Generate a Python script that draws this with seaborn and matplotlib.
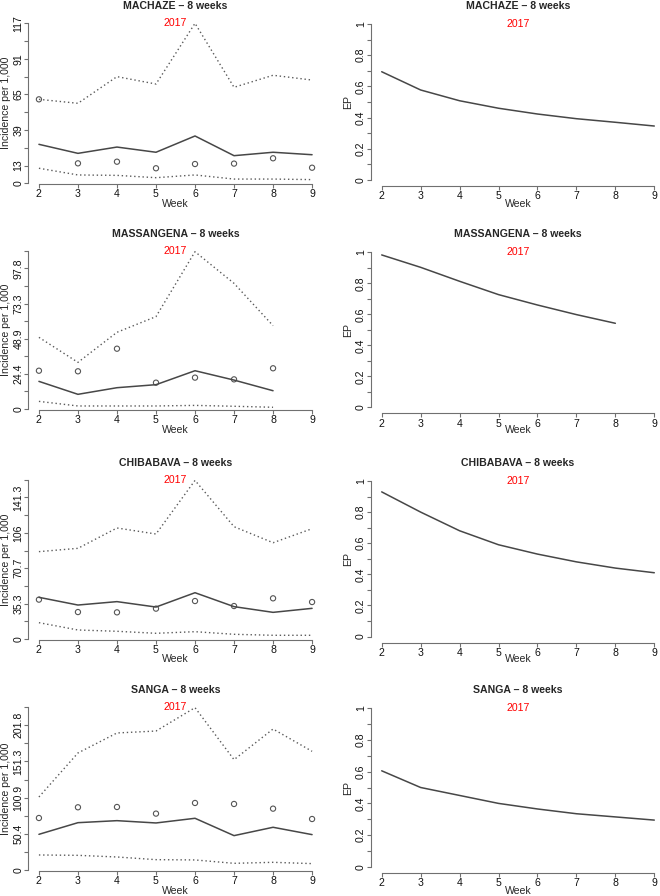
import matplotlib
matplotlib.use("Agg")
import matplotlib.pyplot as plt
import matplotlib.transforms as mtrans
import pandas as pd
import seaborn as sns

sns.set_style("ticks")
plt.rcParams["font.family"] = ["Liberation Sans", "DejaVu Sans"]

weeks = [2, 3, 4, 5, 6, 7, 8, 9]
year_label = "2017"

districts = ["MACHAZE", "MASSANGENA", "CHIBABAVA", "SANGA"]

# incidence per 1,000: upper / fitted / lower bands and observed points
machaze_upper = [61.4, 58.5, 78.0, 72.6, 117.0, 70.2, 79.0, 75.5]
machaze_fit = [28.5, 21.9, 26.5, 22.7, 34.6, 20.2, 22.7, 20.9]
machaze_lower = [11.0, 6.1, 5.8, 4.1, 6.1, 3.1, 3.1, 2.7]
machaze_obs = [61.4, 14.6, 15.8, 11.0, 14.1, 14.4, 18.3, 11.4]
machaze_ep = [0.694, 0.577, 0.508, 0.460, 0.423, 0.393, 0.370, 0.346]

massangena_upper = [49.8, 32.4, 53.3, 64.2, 109.3, 87.3, 57.9]
massangena_fit = [19.2, 10.2, 14.8, 16.9, 26.6, 20.1, 12.7]
massangena_lower = [5.3, 2.1, 2.1, 2.1, 2.5, 1.9, 1.2]
massangena_obs = [26.6, 26.2, 41.9, 18.3, 21.8, 20.6, 28.3]
massangena_ep = [0.983, 0.903, 0.813, 0.727, 0.660, 0.598, 0.542]

chibabava_upper = [87.2, 90.5, 110.8, 104.8, 158.3, 112.1, 96.1, 110.1]
chibabava_fit = [41.6, 33.9, 37.3, 31.9, 46.2, 32.3, 26.6, 30.6]
chibabava_lower = [16.3, 9.0, 7.7, 5.7, 7.3, 4.7, 3.7, 3.7]
chibabava_obs = [39.3, 26.9, 26.6, 30.3, 37.9, 32.9, 40.6, 36.9]
chibabava_ep = [0.93, 0.80, 0.68, 0.59, 0.53, 0.48, 0.44, 0.41]

sanga_upper = [101.9, 163.1, 190.9, 193.6, 226.1, 153.8, 196.4, 165.4]
sanga_fit = [50.0, 66.2, 69.0, 65.8, 72.3, 48.2, 59.8, 49.6]
sanga_lower = [21.3, 20.8, 18.5, 14.8, 14.4, 9.7, 11.1, 9.3]
sanga_obs = [72.7, 87.6, 88.0, 78.8, 93.6, 92.2, 85.7, 71.3]
sanga_ep = [0.605, 0.50, 0.45, 0.40, 0.365, 0.335, 0.315, 0.295]

machaze_yticks = [0, 13, 26, 39, 52, 65, 78, 91, 104, 117]
machaze_ylabels = ["0", "13", "", "39", "", "65", "", "91", "", "117"]
massangena_yticks = [0, 12.2, 24.4, 36.7, 48.9, 61.1, 73.3, 85.6, 97.8, 110]
massangena_ylabels = ["0", "", "24.4", "", "48.9", "", "73.3", "", "97.8", ""]
chibabava_yticks = [0, 17.7, 35.3, 53, 70.7, 88.3, 106, 123.7, 141.3, 159]
chibabava_ylabels = ["0", "", "35.3", "", "70.7", "", "106", "", "141.3", ""]
sanga_yticks = [0, 25.2, 50.4, 75.7, 100.9, 126.1, 151.3, 176.6, 201.8, 227]
sanga_ylabels = ["0", "", "50.4", "", "100.9", "", "151.3", "", "201.8", ""]

ep_yticks = [0, 0.1, 0.2, 0.3, 0.4, 0.5, 0.6, 0.7, 0.8, 0.9, 1.0]
ep_ylabels = ["0", "", "0.2", "", "0.4", "", "0.6", "", "0.8", "", "1"]

series = {
    "MACHAZE": (machaze_upper, machaze_fit, machaze_lower, machaze_obs, machaze_ep,
                machaze_yticks, machaze_ylabels),
    "MASSANGENA": (massangena_upper, massangena_fit, massangena_lower, massangena_obs,
                   massangena_ep, massangena_yticks, massangena_ylabels),
    "CHIBABAVA": (chibabava_upper, chibabava_fit, chibabava_lower, chibabava_obs,
                  chibabava_ep, chibabava_yticks, chibabava_ylabels),
    "SANGA": (sanga_upper, sanga_fit, sanga_lower, sanga_obs, sanga_ep,
              sanga_yticks, sanga_ylabels),
}

W, H = 660, 896
fig = plt.figure(figsize=(6.6, 8.96), dpi=100)

# pixel layout of each row: (left top, left zero, right one, right zero)
rows_px = [(23.3, 183.3, 24.0, 180.0),
           (250.7, 409.0, 252.3, 407.3),
           (479.7, 639.0, 481.0, 636.5),
           (707.0, 870.3, 708.0, 867.0)]

FS = 7.6
line_col = "#474747"
dot_col = "#5a5a5a"
axis_col = "#707070"
dotted = (0, (1, 2.0))


def px_axes(x0, x1, ytop, ybot):
    return fig.add_axes([x0 / W, 1 - ybot / H, (x1 - x0) / W, (ybot - ytop) / H])


def style_axes(ax, yticks, ylabels):
    ax.set_xlim(1.72, 9.28)
    ax.set_xticks(weeks)
    ax.set_xticklabels([str(w) for w in weeks])
    ax.set_yticks(yticks)
    ax.set_yticklabels(ylabels)
    for s in ["top", "right"]:
        ax.spines[s].set_visible(False)
    for s in ["left", "bottom"]:
        ax.spines[s].set_color(axis_col)
        ax.spines[s].set_linewidth(0.8)
    ax.spines["left"].set_bounds(yticks[0], yticks[-1])
    ax.spines["bottom"].set_bounds(2, 9)
    ax.tick_params(axis="both", length=2.6, width=0.8, color=axis_col,
                   labelsize=FS, labelcolor="#111111")
    ax.tick_params(axis="x", pad=1.0)
    ax.tick_params(axis="y", pad=0.8)
    for lab in ax.get_yticklabels():
        lab.set_rotation(90)
        lab.set_va("center")
    ax.set_xlabel("")
    ax.set_ylabel("")
    ax.set_facecolor("none")


for i, name in enumerate(districts):
    upper, fit, lower, obs, ep, yticks, ylabels = series[name]
    n = len(upper)
    df = pd.DataFrame({"week": weeks[:n], "upper": upper, "fit": fit,
                       "lower": lower, "obs": obs})
    df_ep = pd.DataFrame({"week": weeks[:len(ep)], "ep": ep})
    ltop, lzero, rone, rzero = rows_px[i]

    # left: incidence
    ax = px_axes(28.0, 323.0, ltop, lzero + 1.0)
    ymax = yticks[-1]
    sns.lineplot(data=df, x="week", y="upper", ax=ax, color=dot_col, lw=1.0,
                 linestyle=dotted)
    sns.lineplot(data=df, x="week", y="lower", ax=ax, color=dot_col, lw=1.0,
                 linestyle=dotted)
    sns.lineplot(data=df, x="week", y="fit", ax=ax, color=line_col, lw=1.1)
    sns.scatterplot(data=df, x="week", y="obs", ax=ax, marker="o", s=14,
                    facecolor="none", edgecolor="#555555", linewidth=0.8)
    ax.set_ylim(-ymax * (1.0 / (lzero - ltop)), ymax)
    style_axes(ax, yticks, ylabels)
    tr = mtrans.blended_transform_factory(ax.transAxes, ax.transData)
    ax.text(0.5, ymax, year_label, transform=tr, color="red", fontsize=FS,
            ha="center", va="center")
    fig.text(175.5 / W, 1 - (ltop - 17) / H, f"{name} \u2013 8 weeks",
             fontsize=FS, fontweight="bold", ha="center", va="center")
    fig.text(6.0 / W, 1 - ((ltop + lzero) / 2) / H, "Incidence per 1,000",
             rotation=90, fontsize=FS, ha="center", va="center")
    fig.text(175.5 / W, 1 - (lzero + 20.5) / H, "Week", fontsize=FS,
             ha="center", va="center")

    # right: EP
    span = rzero - rone
    ax2 = px_axes(370.8, 665.2, rone - 0.04 * span, rzero + 0.04 * span)
    sns.lineplot(data=df_ep, x="week", y="ep", ax=ax2, color=line_col, lw=1.1)
    ax2.set_ylim(-0.04, 1.04)
    style_axes(ax2, ep_yticks, ep_ylabels)
    tr2 = mtrans.blended_transform_factory(ax2.transAxes, ax2.transData)
    ax2.text(0.5, 1.0, year_label, transform=tr2, color="red", fontsize=FS,
             ha="center", va="center")
    fig.text(518.0 / W, 1 - (ltop - 17) / H, f"{name} \u2013 8 weeks",
             fontsize=FS, fontweight="bold", ha="center", va="center")
    fig.text(348.3 / W, 1 - ((rone + rzero) / 2) / H, "EP",
             rotation=90, fontsize=FS, ha="center", va="center")
    fig.text(518.0 / W, 1 - (lzero + 20.5) / H, "Week", fontsize=FS,
             ha="center", va="center")

fig.savefig("out.png", dpi=100, facecolor="white")
plt.close(fig)
